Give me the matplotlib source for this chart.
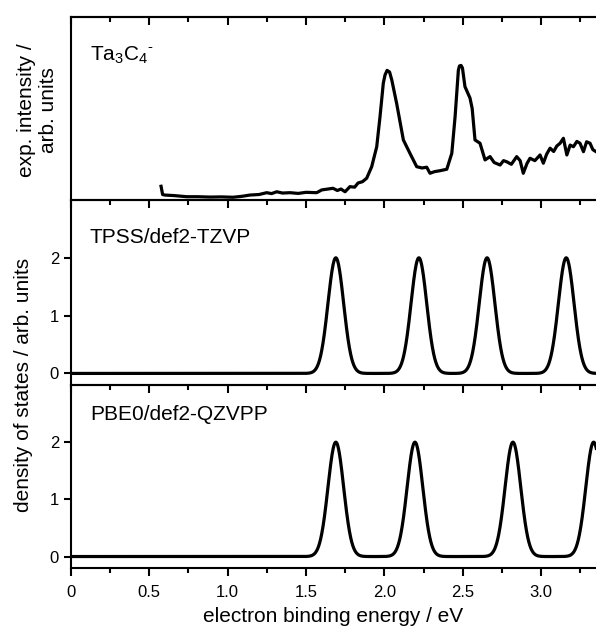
import numpy as np
import matplotlib
matplotlib.use('Agg')
import matplotlib.pyplot as plt
from matplotlib.ticker import MultipleLocator

plt.rcParams['font.family'] = ['Liberation Sans', 'DejaVu Sans']
plt.rcParams['mathtext.fontset'] = 'custom'
plt.rcParams['mathtext.rm'] = 'Liberation Sans'

exp_energy = [0.575, 0.585, 0.600, 0.660, 0.738, 0.810, 0.887, 0.960, 1.034, 1.090,
              1.142, 1.200, 1.249, 1.280, 1.313, 1.350, 1.398, 1.450, 1.500, 1.568,
              1.600, 1.640, 1.672, 1.700, 1.723, 1.749, 1.780, 1.810, 1.832, 1.860,
              1.887, 1.919, 1.951, 1.972, 1.993, 2.004, 2.017, 2.033, 2.047, 2.078,
              2.121, 2.163, 2.206, 2.240, 2.270, 2.291, 2.320, 2.355, 2.398, 2.430,
              2.451, 2.472, 2.479, 2.489, 2.498, 2.514, 2.546, 2.560, 2.578, 2.610,
              2.642, 2.674, 2.700, 2.738, 2.760, 2.780, 2.810, 2.844, 2.866, 2.886,
              2.910, 2.929, 2.960, 2.993, 3.014, 3.035, 3.057, 3.080, 3.100, 3.121,
              3.142, 3.164, 3.185, 3.206, 3.228, 3.248, 3.270, 3.290, 3.312, 3.330,
              3.350]
exp_intensity = [0.075, 0.030, 0.027, 0.024, 0.018, 0.018, 0.016, 0.017, 0.015, 0.020,
                 0.027, 0.030, 0.040, 0.035, 0.045, 0.038, 0.040, 0.036, 0.042, 0.040,
                 0.055, 0.060, 0.064, 0.052, 0.060, 0.045, 0.073, 0.070, 0.093, 0.100,
                 0.119, 0.182, 0.291, 0.455, 0.638, 0.683, 0.708, 0.699, 0.656, 0.528,
                 0.328, 0.255, 0.182, 0.175, 0.179, 0.146, 0.155, 0.160, 0.168, 0.255,
                 0.455, 0.710, 0.732, 0.735, 0.721, 0.619, 0.557, 0.500, 0.328, 0.310,
                 0.219, 0.237, 0.205, 0.191, 0.215, 0.209, 0.195, 0.237, 0.215, 0.146,
                 0.200, 0.228, 0.215, 0.246, 0.201, 0.250, 0.283, 0.265, 0.295, 0.310,
                 0.337, 0.246, 0.300, 0.291, 0.320, 0.310, 0.264, 0.318, 0.310, 0.275,
                 0.264]

# calculated one-electron levels (each peak = 2 states)
tpss_levels = [1.69, 2.22, 2.655, 3.16]
pbe0_levels = [1.69, 2.195, 2.82, 3.335]
level_weight = 2.0
broadening = 0.05

xticks = [0, 0.5, 1.0, 1.5, 2.0, 2.5, 3.0]
xticklabels = ['0', '0.5', '1.0', '1.5', '2.0', '2.5', '3.0']

x = np.linspace(0.0, 3.36, 2000)


def dos(levels):
    y = np.zeros_like(x)
    for e in levels:
        y += level_weight * np.exp(-0.5 * ((x - e) / broadening) ** 2)
    return y


fig = plt.figure(figsize=(5.96, 6.26), dpi=100)
left, right = 0.119, 1.0
bounds = [(0.6805, 0.973), (0.385, 0.6805), (0.0927, 0.385)]
axes = [fig.add_axes([left, b, right - left, t - b]) for b, t in bounds]

lw = 2.3
axes[0].plot(exp_energy, exp_intensity, color='black', lw=lw)
axes[1].plot(x, dos(tpss_levels), color='black', lw=lw)
axes[2].plot(x, dos(pbe0_levels), color='black', lw=lw)

axes[0].set_ylim(0, 1)
axes[0].set_yticks([])
for ax in axes[1:]:
    ax.set_ylim(-0.2, 3.0)
    ax.set_yticks([0, 1, 2])


def style_x(axis_obj, direction):
    axis_obj.set_ticks(xticks)
    axis_obj.set_minor_locator(MultipleLocator(0.25))
    axis_obj.set_tick_params(which='both', direction=direction, width=1.5)
    axis_obj.set_tick_params(which='major', length=6)
    axis_obj.set_tick_params(which='minor', length=3.5)


for ax in axes:
    ax.set_xlim(0, 3.35)
    ax.set_facecolor('none')
    ax.spines['right'].set_visible(False)
    for s in ('left', 'top', 'bottom'):
        ax.spines[s].set_linewidth(1.5)
    style_x(ax.xaxis, 'out')
    ax.tick_params(axis='x', top=False, labelbottom=False)
    ax.tick_params(axis='y', direction='out', length=5, width=1.5, labelsize=12)

# inward ticks on the top frame of the upper panel
top = axes[0].secondary_xaxis('top')
style_x(top.xaxis, 'in')
top.tick_params(axis='x', labeltop=False)
top.spines['top'].set_linewidth(1.5)

axes[2].tick_params(axis='x', labelbottom=True, labelsize=12, pad=6)
axes[2].set_xticklabels(xticklabels)
axes[2].set_xlabel('electron binding energy / eV', fontsize=15, labelpad=5)

axes[0].text(0.036, 0.79, r'Ta$_\mathregular{3}$C$_\mathregular{4}$$^\text{-}$',
             transform=axes[0].transAxes, fontsize=15, va='center')
axes[1].text(0.036, 0.80, 'TPSS/def2-TZVP', transform=axes[1].transAxes,
             fontsize=15, va='center')
axes[2].text(0.036, 0.836, 'PBE0/def2-QZVPP', transform=axes[2].transAxes,
             fontsize=15, va='center')

fig.text(0.063, 1 - 110 / 626, 'exp. intensity /\narb. units', rotation=90,
         ha='center', va='center', fontsize=15, linespacing=1.15)
fig.text(0.040, 1 - 385 / 626, 'density of states / arb. units', rotation=90,
         ha='center', va='center', fontsize=15)

fig.savefig('out.png', dpi=100)
